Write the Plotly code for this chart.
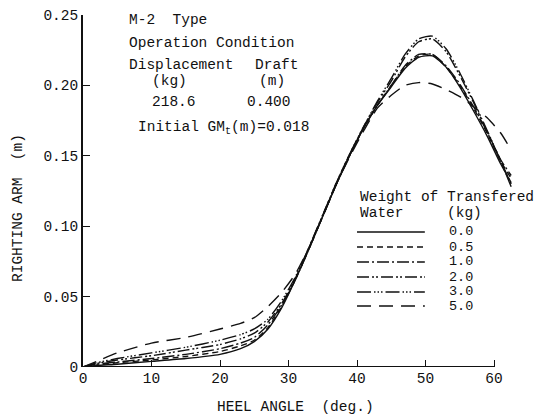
import plotly.graph_objects as go

# Heel angle (deg.)
angles = [0, 2, 5, 10, 15, 20, 23, 25, 27, 29, 31, 33, 35, 37, 39, 41, 43, 45, 47, 49, 51, 53, 55, 57, 59, 61, 62.5]

# Righting arm (m) for each weight of transferred water (kg)
arm_w00 = [0, 0.001, 0.002, 0.004, 0.006, 0.009, 0.013, 0.018, 0.027, 0.042, 0.062, 0.084, 0.107, 0.130, 0.151, 0.170, 0.186, 0.199, 0.212, 0.220, 0.221, 0.213, 0.199, 0.182, 0.164, 0.144, 0.131]
arm_w05 = [0, 0.0015, 0.003, 0.005, 0.0075, 0.011, 0.015, 0.019, 0.028, 0.043, 0.062, 0.084, 0.107, 0.130, 0.151, 0.170, 0.186, 0.200, 0.213, 0.221, 0.222, 0.213, 0.200, 0.184, 0.166, 0.146, 0.134]
arm_w10 = [0, 0.002, 0.0035, 0.006, 0.009, 0.013, 0.017, 0.021, 0.030, 0.044, 0.062, 0.084, 0.107, 0.130, 0.151, 0.170, 0.186, 0.200, 0.214, 0.222, 0.222, 0.214, 0.201, 0.185, 0.167, 0.147, 0.136]
arm_w20 = [0, 0.0025, 0.005, 0.008, 0.012, 0.016, 0.020, 0.024, 0.032, 0.045, 0.063, 0.085, 0.108, 0.131, 0.152, 0.171, 0.188, 0.203, 0.220, 0.231, 0.233, 0.224, 0.207, 0.188, 0.167, 0.146, 0.130]
arm_w30 = [0, 0.003, 0.006, 0.010, 0.014, 0.019, 0.023, 0.027, 0.034, 0.047, 0.064, 0.085, 0.108, 0.131, 0.152, 0.171, 0.189, 0.205, 0.222, 0.233, 0.235, 0.226, 0.209, 0.189, 0.168, 0.146, 0.128]
arm_w50 = [0, 0.004, 0.010, 0.017, 0.021, 0.027, 0.031, 0.035, 0.043, 0.053, 0.066, 0.085, 0.107, 0.130, 0.150, 0.168, 0.184, 0.193, 0.200, 0.202, 0.201, 0.197, 0.192, 0.185, 0.177, 0.166, 0.154]

weight_labels = ["0.0", "0.5", "1.0", "2.0", "3.0", "5.0"]
series = [arm_w00, arm_w05, arm_w10, arm_w20, arm_w30, arm_w50]
dashes = ["solid", "6px,4px", "12px,3px,2px,3px", "12px,3px,2px,2px,2px,3px",
          "14px,3px,1.5px,2px,1.5px,2px,1.5px,3px", "14px,8px"]

x_ticks = [0, 10, 20, 30, 40, 50, 60]
y_ticks = [0, 0.05, 0.10, 0.15, 0.20, 0.25]
y_ticktext = ["0", "0.05", "0.10", "0.15", "0.20", "0.25"]

FONT = "Liberation Mono, Courier New, monospace"
INK = "#111111"
FS = 14.5

fig = go.Figure()
for lab, ys, d in zip(weight_labels, series, dashes):
    fig.add_trace(go.Scatter(x=angles, y=ys, mode="lines", name=lab,
                             line=dict(color=INK, width=1.4, dash=d, shape="spline", smoothing=0.6),
                             showlegend=False))

# Custom legend (key samples + labels)
leg_x0, leg_x1, leg_tx = 40.0, 49.9, 53.1
leg_y = [0.0959, 0.0852, 0.0746, 0.0639, 0.0533, 0.0433]
shapes = []
annotations = []
for lab, d, yy in zip(weight_labels, dashes, leg_y):
    shapes.append(dict(type="line", xref="x", yref="y", x0=leg_x0, x1=leg_x1, y0=yy, y1=yy,
                       line=dict(color=INK, width=1.4, dash=d)))
    annotations.append(dict(x=leg_tx, y=yy, xref="x", yref="y", text=lab, showarrow=False,
                            xanchor="left", yanchor="middle", font=dict(family=FONT, size=13.5, color=INK)))
annotations.append(dict(x=40.1, y=0.1210, xref="x", yref="y", text="Weight of Transfered", showarrow=False,
                        xanchor="left", yanchor="middle", font=dict(family=FONT, size=FS, color=INK)))
annotations.append(dict(x=40.1, y=0.1095, xref="x", yref="y", text="Water     (kg)", showarrow=False,
                        xanchor="left", yanchor="middle", font=dict(family=FONT, size=FS, color=INK)))

# x axis baseline (ends at 60 deg)
shapes.append(dict(type="line", xref="x", yref="y", x0=0, x1=60, y0=0, y1=0,
                   line=dict(color=INK, width=1.8)))

# Info block
info = [
    ("M-2  Type", 6.4, 0.2465),
    ("Operation Condition", 6.4, 0.2301),
    ("Displacement", 6.4, 0.2145),
    ("Draft", 24.8, 0.2145),
    ("(kg)", 9.8, 0.2030),
    ("(m)", 25.4, 0.2030),
    ("218.6", 9.8, 0.1885),
    ("0.400", 23.6, 0.1885),
    ("Initial GM<sub>t</sub>(m)=0.018", 7.7, 0.1697),
]
for t, xx, yy in info:
    annotations.append(dict(x=xx, y=yy, xref="x", yref="y", text=t, showarrow=False,
                            xanchor="left", yanchor="middle", font=dict(family=FONT, size=FS, color=INK)))

# axis titles
annotations.append(dict(x=0.5, y=0, xref="paper", yref="paper", text="HEEL ANGLE  (deg.)", showarrow=False,
                        xanchor="center", yanchor="middle", yshift=-40, xshift=-5,
                        font=dict(family=FONT, size=FS, color=INK)))
annotations.append(dict(x=0, y=0.5, xref="paper", yref="paper", text="RIGHTING ARM  (m)", showarrow=False,
                        textangle=-90, xanchor="center", yanchor="middle", xshift=-65, yshift=-17,
                        font=dict(family=FONT, size=FS, color=INK)))

fig.update_layout(
    width=539, height=416,
    margin=dict(l=83, r=21, t=15, b=49, autoexpand=False),
    paper_bgcolor="white", plot_bgcolor="white",
    font=dict(family=FONT, size=FS, color=INK),
    shapes=shapes, annotations=annotations,
    xaxis=dict(range=[0, 63.5], tickvals=x_ticks, ticks="inside", ticklen=7, tickwidth=1.2,
               tickcolor=INK, showline=False, showgrid=False, zeroline=False, automargin=False,
               tickfont=dict(family=FONT, size=FS, color=INK)),
    yaxis=dict(range=[0, 0.25], tickvals=y_ticks, ticktext=y_ticktext, ticks="inside", ticklen=7,
               tickwidth=1.2, tickcolor=INK, showline=True, linecolor=INK, linewidth=1.8,
               showgrid=False, zeroline=False, automargin=False,
               tickfont=dict(family=FONT, size=FS, color=INK)),
)

fig.write_html("out.html", config={"displayModeBar": False},
               post_script="document.body.style.margin='0';document.body.style.overflow='hidden';")
